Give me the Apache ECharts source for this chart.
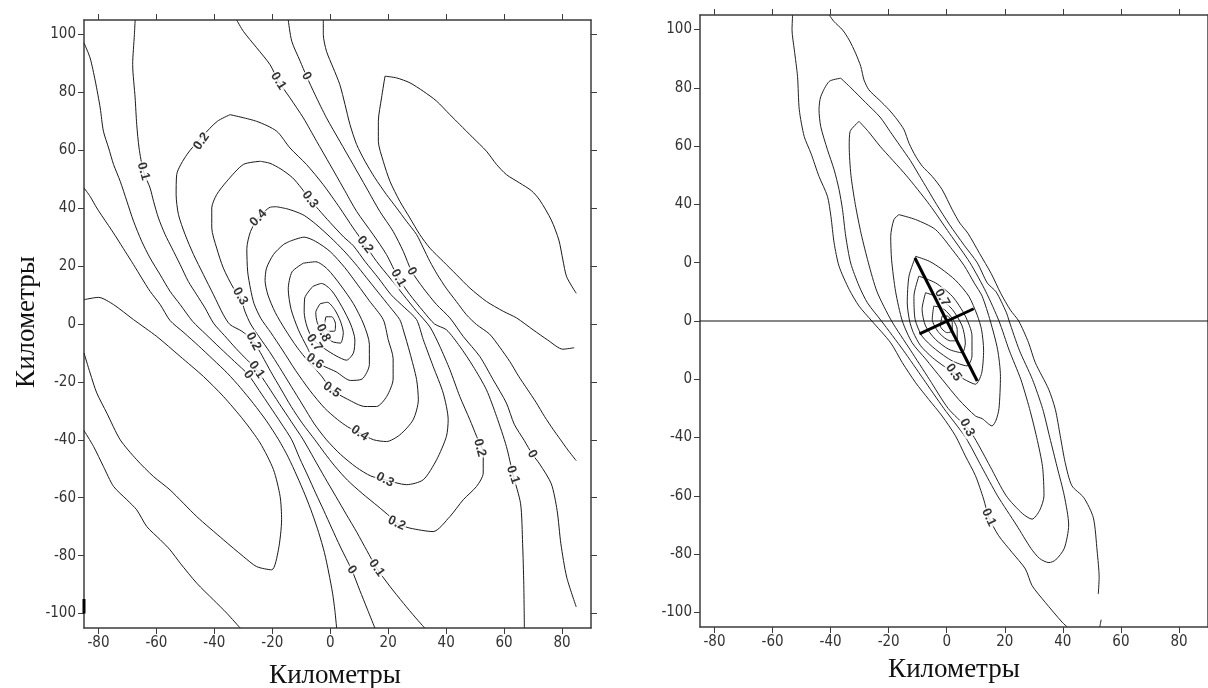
<!DOCTYPE html>
<html><head><meta charset="utf-8">
<script src="https://cdn.jsdelivr.net/npm/echarts@6/dist/echarts.min.js"></script>
<style>html,body{margin:0;padding:0;background:#fff}#c{width:1208px;height:688px}</style>
</head><body><div id="c"></div>
<script>
// ---------- tick values / labels ----------
const xTicks = [-80,-60,-40,-20,0,20,40,60,80];
const yTicks = [-100,-80,-60,-40,-20,0,20,40,60,80,100];
const yLabelsLeft  = ['-100','-80','-60','-40','-20','0','20','40','60','80','100'];
const yLabelsRight = ['-100','-80','-60','-40','0','0','0','40','60','80','100'];

// ---------- LEFT PANEL contour lines (km, km) ----------
const L_lobeLL = [[-85,8.4],[-80,9.2],[-74.8,6.7],[-67.9,1.5],[-59.9,-4.3],[-51.8,-11.2],[-43.8,-18.1],[-36.9,-25],[-30,-33.1],[-24.2,-41.1],[-19.6,-50.3],[-17.3,-59.6],[-16.8,-67.6],[-17.9,-78],[-20.2,-84.9],[-25.4,-83.8],[-30,-80.3],[-36.9,-74.5],[-46.1,-66.5],[-55.3,-57.3],[-61,-52.7],[-66.8,-46.9],[-72.5,-40],[-77.1,-30.8],[-80.6,-23.8],[-82.9,-16.9],[-85,-10]];
const L_bottomLeft = [[-85,-36.8],[-81.7,-42.3],[-78.3,-49.2],[-74.8,-56.1],[-70.2,-60.7],[-66.8,-64.2],[-63.3,-70],[-58.7,-74.5],[-55.3,-78],[-51.8,-82.6],[-46.1,-89.5],[-40.3,-95.3],[-35.7,-99.9],[-31.1,-105]];
const L_B = [[-85,47],[-82.9,44.1],[-80.6,40.1],[-78.3,36.6],[-76,33.2],[-73.7,29.7],[-70.8,25.1],[-67.9,20.5],[-65.1,15.9],[-62.2,11.3],[-58.7,6.7],[-55.3,1.2],[-50.5,-3],[-45.5,-7.5],[-40.5,-12.2],[-35.5,-17],[-31,-22],[-26.5,-27.5],[-22,-33.5],[-17.8,-40],[-14.5,-46],[-11.5,-52.5],[-8.7,-59],[-6.2,-65.5],[-4,-72],[-2,-79],[-0.5,-86],[0.8,-93],[1.6,-99],[2.2,-105]];
const L_A = [[-85,97.1],[-82.9,91.9],[-81.1,83.9],[-79.4,74.6],[-78.3,66.6],[-76.5,60.8],[-74.8,55.1],[-72.5,49.3],[-70.2,42.4],[-67.9,35.5],[-65.1,28.6],[-62.2,22.8],[-58.7,17],[-55.3,11.3],[-51.8,6.7],[-47.5,0.9],[-43,-3.5],[-38,-8.3],[-33,-13],[-28.3,-17.5],[-24.5,-23],[-20.8,-28.5],[-17,-34.2],[-13.3,-40],[-10.5,-46.5],[-7.7,-52.5],[-5,-58.5],[-2.2,-64.5],[0.5,-70.5],[3.5,-77],[7.4,-84.9],[10.2,-92],[12.8,-98.5],[15.4,-105]];
const L_01a = [[-67.35,105],[-67.6,100],[-68.2,89.6],[-67.35,78.1],[-66.8,68.9],[-66,60.8],[-64.5,52.75],[-62.2,47],[-61,42.4],[-59.3,36.6],[-57,30.9],[-54.7,26.3],[-51.8,20.5],[-49,14.7],[-46.1,10.1],[-43.2,5.5],[-40.3,0.3],[-36.5,-4],[-32.5,-8.5],[-28.8,-12.3],[-25.4,-15.8],[-21.5,-21.5],[-17.6,-27.5],[-13.4,-33.8],[-9.3,-40],[-5.6,-46.5],[-1.9,-53],[1.9,-59.5],[5.5,-65.7],[9.2,-72],[12.6,-78.2],[16,-84.3],[20.5,-90.5],[25.3,-96.5],[29.5,-101.5],[32.6,-105]];
const L_01b = [[-32.3,105],[-30,101.1],[-25.4,95.4],[-20.8,89.6],[-17.9,83.9],[-13.9,78.1],[-9.3,71.2],[-4.7,63.1],[-0.1,55.1],[4.5,47],[9.1,38.9],[14.8,30.9],[19.4,24],[23.5,15.9],[27.5,10.1],[32.1,4.4],[36,0],[40.1,-2],[44.7,-7.7],[49.3,-14.6],[53.9,-22.7],[57.4,-31.9],[60.8,-42.3],[63.1,-52.1],[65.7,-62.1],[66.4,-75.9],[66.8,-90],[67,-105]];
const L_Ab = [[-14.5,105],[-13.3,97.7],[-10.4,90.8],[-8.2,85.6],[-5.3,79.3],[-1.3,71.2],[3.3,63.1],[7.9,55.1],[12.5,47],[17.1,38.9],[21.7,32],[25.2,25.1],[28.1,18.2],[32.1,12.4],[36.7,6.7],[41.3,2.1],[45.9,-4.3],[51.6,-11.2],[56.2,-19.2],[60.8,-27.3],[63.5,-34.6],[67,-40.3],[69.7,-44.9],[72.3,-48.4],[76.3,-55.2],[78.3,-64.4],[79.6,-75.9],[81.6,-87.4],[84.9,-97.7]];
const L_M = [[-2.4,105],[-2.4,100],[-1.3,94.2],[1,88.5],[3.3,82.7],[5.1,75.8],[6.8,68.9],[9.1,62],[12,56.2],[15.4,50.5],[19.4,44.7],[22.9,40.1],[26.3,35.5],[29.8,30.9],[32.1,26.3],[34.4,21.6],[37,17],[40,12.4],[43.5,7.8],[47,3.2],[50.5,-0.2],[55,-3.5],[58.5,-8],[62,-13],[65,-18],[68,-22.5],[71,-27],[74,-32],[77,-36.5],[79.5,-40],[82,-43.5],[84.9,-47.2]];
const L_lobeURtop = [[18.9,85.6],[22.9,85],[27.5,83.3],[32.1,80.4],[36.7,77],[41.3,72.3],[44.7,68.9],[49.3,64.3],[53.9,59.7],[57.4,55.1],[60.8,51.6],[65.4,48.7],[69.5,46],[72.3,42.8],[76.3,35.9],[78.9,29],[80.3,22.1],[81.6,16.3],[84.9,10.6]];
const L_lobeURbot = [[18.9,85.6],[17.7,78.1],[16.6,70],[16.6,63.1],[18.3,56.2],[20.6,49.3],[24,42.4],[27.5,36.6],[30.9,30.9],[34.4,26.2],[39,21.6],[43.6,17],[48.2,12.4],[53.9,7.8],[59.7,4.4],[64.3,2.1],[70,-2],[75,-5.5],[80.3,-8.7],[84.2,-8.2]];
const L_02 = [[-34.6,72.3],[-25.4,70],[-18.5,66.6],[-13.9,60.8],[-8.2,55.1],[-2.4,48.1],[3.3,40.1],[7.9,33.2],[12,27.4],[16,21.6],[20.6,15.9],[25.2,10.1],[29.8,4.4],[34.4,-1],[37.8,-7.7],[41.3,-15.8],[44.7,-25],[48.2,-33.1],[50.5,-38.8],[52.8,-44.6],[52.8,-51.5],[50.5,-56.1],[45.9,-60.7],[41.3,-66.5],[35.5,-71.7],[27.5,-70.5],[22.9,-68.8],[20.6,-66.5],[16.5,-63],[11,-58.5],[6,-54],[1.5,-49],[-2,-44.5],[-5.3,-40],[-9.5,-34.5],[-13.5,-28.5],[-17,-22.5],[-20.5,-16.5],[-23.5,-11],[-26.5,-6],[-30.5,-2.5],[-34.6,-0.2],[-36.9,3.2],[-40.3,10.1],[-43.8,17.1],[-47.2,24],[-50.1,30.9],[-52.4,37.8],[-53.2,44.7],[-53,51.6],[-49.5,58.5],[-44,65],[-39,70],[-34.6,72.3]];
const L_03 = [[-24.2,56.2],[-30,55.1],[-35.7,49.3],[-39.2,44.7],[-40.9,40.1],[-40.9,33.2],[-39.2,26.2],[-36.9,19.3],[-33.4,12.4],[-31.1,9.6],[-29.5,4.5],[-27.5,0],[-24.5,-4.5],[-21,-9.5],[-17.5,-15],[-13.5,-21.5],[-9.5,-28],[-5.5,-34.5],[-1.3,-40],[3.5,-45],[9,-49.5],[14,-52.5],[18.9,-53.8],[26.3,-55.5],[32.1,-53.8],[36.7,-46.9],[40.1,-38.8],[40.7,-33.1],[39,-23.9],[35.5,-14.6],[32.1,-5.4],[29.8,1.5],[25.5,5.8],[21,10.1],[16.6,15.9],[12,21.6],[8,27],[4.7,30],[0,35],[-4,39.5],[-7,43],[-10,47],[-13,50.5],[-17,53.5],[-20.8,55.5],[-24.2,56.2]];
const L_04 = [[-18.5,40.5],[-20.8,40.3],[-24.8,36.6],[-27.5,32],[-28.8,26],[-28.5,18],[-27.5,12],[-26.3,7],[-24,2],[-20.5,-3],[-16.5,-9],[-12,-16],[-7,-23],[-2,-29],[2.5,-33],[6,-35.5],[10.2,-37.7],[15,-40],[19.4,-40.6],[24,-38.3],[28.6,-33.1],[30.4,-26.2],[29.8,-19.2],[27.5,-10],[25.2,-2],[24,1.5],[20.5,6],[16.5,11],[12.5,16],[8.5,21],[4.5,25.5],[0,30],[-5,34.5],[-9,37.5],[-12.2,38.9],[-15,39.8],[-18.5,40.5]];
const L_05 = [[-13.9,28.6],[-9,30],[-5,28.5],[0,25],[5,19.5],[9.5,13.5],[13.5,8],[18.3,1.5],[20,-5.4],[21.7,-12],[21.7,-19],[19.5,-25],[16,-28.5],[12,-28.5],[6,-26],[0.5,-22.7],[-3,-18],[-7.5,-13],[-11.5,-8],[-15.5,-2],[-19,4],[-21.5,10],[-22.5,15],[-22,19.3],[-19.6,24],[-16.2,27.4],[-13.9,28.6]];
const L_06 = [[-9.3,21],[-5,21.5],[-1,19],[3.5,13.5],[8,7],[11.5,0],[13.5,-7],[13.5,-14],[11,-19],[7,-19.5],[2,-16.5],[-5.3,-12.9],[-8,-8],[-11,-2],[-13.5,5],[-14.5,12],[-13.2,18],[-9.3,21]];
const L_07 = [[-6,13],[-3,14],[0.5,11.5],[4,6],[7,0],[8.5,-5.5],[8,-10],[5.6,-12.5],[2,-11],[-2,-8.5],[-5.9,-5.4],[-8,-1],[-9,4],[-8.8,9],[-6,13]];
const L_08 = [[-3.5,7],[-1,7.5],[1.5,5],[3.5,1],[4.5,-3],[3.5,-6.6],[0.5,-6],[-2.4,-3.1],[-4.5,0.5],[-5,4],[-3.5,7]];
const L_09 = [[-1.5,2.5],[0.5,2.5],[1.8,0],[1.5,-2.5],[-0.5,-2.5],[-2,-0.5],[-1.5,2.5]];
const L_edgeMark = [[-85,-95],[-85,-100]];

// contour labels: [x, y, text, rotation]
const L_labels = [
  [-64.5,52.75,'0.1',-75],[-17.9,83.9,'0.1',-58],[-8.2,85.6,'0',-60],[-44.4,63.1,'0.2',55],
  [-7,43,'0.3',-53],[-24.8,36.6,'0.4',45],[12,27.4,'0.2',-52],[23.5,15.9,'0.1',-60],[28.1,18.2,'0',-60],
  [-31.1,9.6,'0.3',-60],[-26.5,-6,'0.2',-62],[-25.4,-15.8,'0.1',-55],[-28.3,-17.5,'0',-55],
  [-2.4,-3.1,'0.8',-65],[-5.5,-6.5,'0.7',-55],[-5.3,-12.9,'0.6',-35],[0.5,-22.7,'0.5',-35],
  [10.2,-37.7,'0.4',-35],[18.9,-53.8,'0.3',-28],[22.9,-68.8,'0.2',-25],[51.6,-42.8,'0.2',-75],
  [63.1,-52.1,'0.1',-72],[69.7,-44.9,'0',-60],[7.4,-84.9,'0',-55],[16,-84.3,'0.1',-55]
];

// ---------- RIGHT PANEL ----------
const R_c1a = [[-53.1,105],[-53.3,99.9],[-52.5,93],[-51.4,83.9],[-50.8,72.5],[-49.1,63.3],[-46.8,57.6],[-44,49.6],[-41.1,42.8],[-39.9,35.9],[-38.8,26.8],[-37.1,18.8],[-33.6,10.8],[-30.2,5.1],[-25.8,0],[-19.3,-7.5],[-15.3,-14.3],[-10.7,-21.2],[-6.2,-26.9],[-1.6,-32.6],[3,-39.4],[6.4,-46.3],[9.9,-53.1],[12.7,-61.1],[14.5,-67.4],[17.9,-73.7],[22.5,-79.4],[27.1,-85.1],[29.4,-90.8],[33.9,-96.5],[39.7,-103.3],[41.5,-105]];
const R_c1b = [[-40.5,105],[-38.8,102.7],[-35.9,99.9],[-33.6,96.4],[-31.4,91.9],[-29.6,87.3],[-28.5,82.7],[-26.8,79.3],[-23.3,75.9],[-19.9,72.5],[-17,69],[-14.7,65.6],[-13,61],[-10.7,56.5],[-8.4,53.1],[-5,49.6],[-1.6,45.1],[1.9,38.2],[4.5,33.6],[7.3,30.1],[11.3,23.2],[15.3,16.3],[18.6,9.5],[21.9,3.8],[24.8,0],[28.2,-7.5],[30.5,-14.3],[35.1,-23.4],[37.4,-30.3],[39.1,-39.4],[40.8,-48.6],[43.1,-56.5],[47.2,-60.6],[50.5,-67.5],[51.8,-78.9],[52.5,-88],[52.2,-93.7]];
const R_c1c = [[53.2,-102.5],[52.7,-105]];
const R_c2 = [[-36.5,83.3],[-33,80],[-28,75],[-23,70],[-19.5,65],[-16,60],[-12.5,55],[-9.5,50],[-6.5,45],[-3.5,40],[1,33],[6,26],[10.5,20],[14,13],[17,10],[20.5,3],[21.5,0],[25,-10],[29.5,-20],[33,-30],[35.5,-40],[38,-50],[40.5,-60],[42,-70],[40.5,-78],[37.5,-82],[35.2,-82.9],[32,-81.5],[29,-78],[24,-70],[17.5,-60],[12,-50],[6.5,-40],[-1,-30],[-8,-20],[-15,-10],[-22.5,0],[-27.3,6.2],[-30.2,12],[-33.1,19.9],[-34.8,29.1],[-35.9,38.2],[-37.1,45.1],[-38.8,51.9],[-41.1,58.8],[-43.4,66.7],[-44,72.5],[-43.4,77],[-40.5,82.2],[-36.5,83.3]];
const R_c3 = [[-30.2,68.5],[-27,65],[-23,60],[-14,50],[-6,40],[1,30],[8,20],[13.5,10],[18,0],[21.5,-10],[25.5,-20],[28.5,-30],[31,-40],[33,-50],[33.5,-60],[32,-65],[29.4,-68],[26,-66],[20.5,-60],[15,-50],[9.5,-40],[7,-36.6],[0.5,-30],[-6,-20],[-12.5,-10],[-19,0],[-24,10],[-27,20],[-29.5,30],[-31.5,40],[-33,50],[-33.6,60],[-33.3,65],[-30.2,68.5]];
const R_c4 = [[-16.5,36.5],[-10.7,34.8],[-3.9,31.4],[1.9,24.5],[6,19],[9.5,13],[12.2,8.5],[15,0],[17.5,-9.7],[18.5,-19],[18,-30],[17,-34],[15.6,-36],[12.2,-33.5],[9.9,-32.6],[4.2,-27],[-1.6,-20],[-7.3,-13],[-11.9,-7.5],[-15.3,0],[-17.6,10],[-19,21],[-19.3,29],[-18.2,34.8],[-16.5,36.5]];
const R_c5 = [[-10.7,22.2],[-13,15.4],[-13.6,6.2],[-12.8,0],[-11.5,-4],[-9,-8.5],[-5,-12.5],[-1,-15.5],[2.4,-17.7],[6,-20],[9.9,-21.7],[12,-18],[12.7,-10],[12,-3],[10.5,2],[7.6,8.5],[3,14],[-2,18],[-6,20.5],[-10.7,22.2]];
const R_c6 = [[-9.6,15.4],[-11.3,8.5],[-10.9,0.6],[-8.5,-5.2],[-3.9,-9.7],[1.9,-13.7],[7,-15.4],[8.7,-12],[8.7,-5.1],[6.4,1.7],[1.9,8.5],[-3.9,13.1],[-9.6,15.4]];
const R_c7 = [[-7.3,9.7],[-8.5,4],[-7.3,-1.7],[-3.9,-6.3],[0.7,-9.7],[5.3,-10.9],[6.4,-7.5],[5.3,-1.7],[1.9,4],[-2.7,8],[-7.3,9.7]];
const R_c8 = [[-4.5,5.1],[-5,0.6],[-2.7,-4],[1.3,-6.8],[3.6,-6.8],[3.6,-2.9],[1.3,1.7],[-1.6,4.5],[-4.5,5.1]];
const R_c9 = [[-1.6,1.7],[-2.2,-1.7],[0.15,-4],[1.9,-3.4],[1.9,-0.6],[0.15,1.7],[-1.6,1.7]];
const R_hline = [[-85,0],[90,0]];
const R_crossLong = [[-10.95,21.6],[10.5,-20.6]];
const R_crossShort = [[-9.4,-4.4],[9.3,4.2]];
const R_labels = [[14.5,-67.4,'0.1',-65],[7,-36.6,'0.3',-62],[2.4,-17.7,'0.5',-55],[-1.6,8,'0.7',-60]];

// ---------- build ----------
const FONT_TICK = '"Liberation Sans Narrow","DejaVu Sans Condensed","Liberation Sans",sans-serif';
const axColor = '#3c3c3c';
function xAx(grid, pos, showLabel){
  return {gridIndex:grid,type:'value',min:-85,max:90,position:pos,
    axisLine:{show:true,onZero:false,lineStyle:{color:axColor,width:1.5}},
    axisTick:{show:true,length:6,customValues:xTicks,lineStyle:{color:axColor,width:1}},
    axisLabel:{show:showLabel,customValues:xTicks,margin:8,color:'#333',fontSize:15,fontFamily:FONT_TICK},
    splitLine:{show:false}};
}
function yAx(grid, pos, showLabel, labels){
  return {gridIndex:grid,type:'value',min:-105,max:105,position:pos,
    axisLine:{show:true,onZero:false,lineStyle:{color:axColor,width:1.5}},
    axisTick:{show:true,length:6,customValues:yTicks,lineStyle:{color:axColor,width:1}},
    axisLabel:{show:showLabel,customValues:yTicks,margin:8,color:'#333',fontSize:15,fontFamily:FONT_TICK,
      formatter:function(v){const i=yTicks.indexOf(Math.round(v));return i>=0?labels[i]:'';}},
    splitLine:{show:false}};
}
function lineS(data, xi, yi, w, col){
  return {type:'line',xAxisIndex:xi,yAxisIndex:yi,data:data,showSymbol:false,symbol:'none',smooth:0.25,
    silent:true,lineStyle:{width:w||1,color:col||'#1a1a1a'},z:2,animation:false};
}
function labelS(arr, xi, yi){
  return {type:'scatter',xAxisIndex:xi,yAxisIndex:yi,symbolSize:1,itemStyle:{color:'rgba(0,0,0,0)'},z:6,silent:true,animation:false,
    data:arr.map(a=>({value:[a[0],a[1]],label:{show:true,position:'inside',formatter:a[2],rotate:a[3],
      color:'#000',fontSize:13,fontWeight:'bold',fontFamily:'"Liberation Sans",Arial,sans-serif',
      backgroundColor:'#fff',padding:[0,1]}}))};
}
const leftLines=[L_lobeLL,L_bottomLeft,L_B,L_A,L_01a,L_01b,L_Ab,L_M,L_lobeURtop,L_lobeURbot,L_02,L_03,L_04,L_05,L_06,L_07,L_08,L_09];
const rightLines=[R_c1a,R_c1b,R_c1c,R_c2,R_c3,R_c4,R_c5,R_c6,R_c7,R_c8,R_c9];
const series=[];
leftLines.forEach(d=>series.push(lineS(d,0,0)));
series.push(lineS(L_edgeMark,0,0,3,'#000'));
series.push(labelS(L_labels,0,0));
rightLines.forEach(d=>series.push(lineS(d,2,2,1,'#222')));
series.push(Object.assign(lineS(R_hline,2,2,1.2,'#111'),{smooth:false}));
series.push(Object.assign(lineS(R_crossLong,2,2,3,'#000'),{smooth:false,z:7}));
series.push(Object.assign(lineS(R_crossShort,2,2,3,'#000'),{smooth:false,z:7}));
series.push(labelS(R_labels,2,2));

const chart=echarts.init(document.getElementById('c'),null,{renderer:'canvas'});
chart.setOption({
  animation:false,backgroundColor:'#fff',
  grid:[{left:84,top:20,width:507,height:608},{left:700,top:15,width:509,height:612}],
  xAxis:[xAx(0,'bottom',true),xAx(0,'top',false),xAx(1,'bottom',true),xAx(1,'top',false)],
  yAxis:[yAx(0,'left',true,yLabelsLeft),yAx(0,'right',false,yLabelsLeft),yAx(1,'left',true,yLabelsRight),yAx(1,'right',false,yLabelsRight)],
  series:series,
  graphic:[
    {type:'text',x:335,y:676,style:{text:'Километры',font:'27px "Liberation Serif","Times New Roman",serif',fill:'#111',align:'center',verticalAlign:'middle'}},
    {type:'text',x:954,y:670,style:{text:'Километры',font:'27px "Liberation Serif","Times New Roman",serif',fill:'#111',align:'center',verticalAlign:'middle'}},
    {type:'text',x:27,y:322,rotation:Math.PI/2,style:{text:'Километры',font:'27px "Liberation Serif","Times New Roman",serif',fill:'#111',align:'center',verticalAlign:'middle'}}
  ]
});
</script></body></html>
